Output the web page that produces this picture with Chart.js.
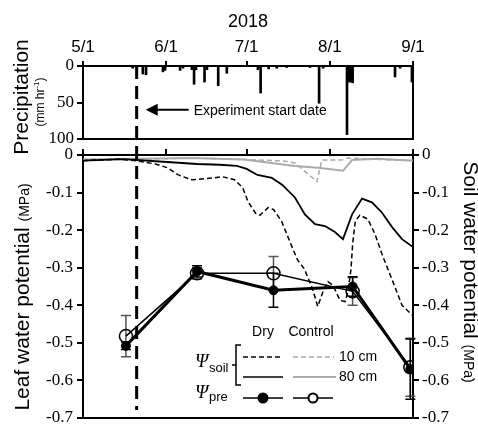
<!DOCTYPE html>
<html lang="en">
<head>
<meta charset="UTF-8">
<style>
  html, body { margin: 0; padding: 0; background: #fff; overflow: hidden; }
  .wrap { position: relative; width: 478px; height: 426px; }
  .wrap canvas { position: absolute; left: 0; top: 0; }
</style>
<title>Precipitation and water potential 2018</title>
</head>
<body>
<div class="wrap">
  <canvas id="rainChart" width="478" height="426"></canvas>
  <canvas id="psiChart" width="478" height="426"></canvas>
</div>
<script src="https://cdn.jsdelivr.net/npm/chart.js"></script>
<script>
// days counted from 5/1
const monthDays = [0, 31, 61, 92, 123];
const monthLabels = ['5/1', '6/1', '7/1', '8/1', '9/1'];
const startDay = 20;      // experiment start date
const arrowMm = 60;

// precipitation (mm hr-1)
const rainDay = [18.5, 22.3, 23.5, 29.8, 30.6, 36.2, 37.3, 40.6, 41.4, 42.1, 45.3, 46.2, 50.4, 53.6,
                 65.2, 66.2, 69.2, 72.2, 75.9, 84.6, 88, 89.5, 98.4, 99.1, 99.8, 100.5, 116.3, 118.2, 122.6];
const rainMm = [3, 11, 12, 8, 6, 6, 3, 5, 25, 5, 22, 5, 27, 10,
                5, 37, 4, 3, 2, 2, 51, 3, 94, 22, 22, 23, 15, 3, 22];
const rainTicks = [0, 50, 100];

// soil water potential (MPa)
const dry10Day = [0, 14, 20.5, 27, 31.5, 35.5, 40.5, 46, 52, 56.5, 59.5, 61.5, 64.5, 66, 69, 71, 74, 77, 80,
                  82.5, 85.5, 87.5, 89.5, 91.3, 93.2, 95.8, 97.7, 98.8, 99.9, 100.5, 101.5, 103.2, 106.2,
                  108.8, 111.4, 112.6, 115.5, 118.9, 123];
const dry10 = [-0.015, -0.011, -0.016, -0.024, -0.034, -0.053, -0.066, -0.063, -0.058, -0.066, -0.087, -0.124,
               -0.157, -0.16, -0.14, -0.145, -0.176, -0.229, -0.28, -0.303, -0.355, -0.403, -0.363, -0.337,
               -0.347, -0.387, -0.39, -0.363, -0.303, -0.237, -0.176, -0.16, -0.171, -0.21, -0.263, -0.285,
               -0.337, -0.4, -0.428];
const dry80Day = [0, 15, 30, 42.5, 51, 57.4, 61, 65, 70.4, 74.2, 79, 82.7, 86.5, 90.2, 93.9, 96.9,
                  100.3, 104, 107.7, 111.4, 115.2, 118.9, 123];
const dry80 = [-0.015, -0.011, -0.018, -0.024, -0.026, -0.029, -0.037, -0.053, -0.061, -0.079, -0.113,
               -0.158, -0.184, -0.189, -0.205, -0.224, -0.158, -0.116, -0.126, -0.153, -0.192, -0.224, -0.245];
const ctrl10Day = [0, 20, 40, 60, 75, 79, 87.2, 89, 96.5, 98.8, 110, 123];
const ctrl10 = [-0.012, -0.012, -0.008, -0.012, -0.016, -0.021, -0.071, -0.013, -0.013, -0.008, -0.012, -0.014];
const ctrl80Day = [0, 40, 60, 79, 87.6, 96.9, 100.3, 110, 123];
const ctrl80 = [-0.012, -0.008, -0.012, -0.029, -0.034, -0.042, -0.013, -0.01, -0.015];

// predawn leaf water potential (MPa)
const leafDay = [16, 42.5, 71, 100.5, 122];
const dryLeaf = [-0.508, -0.31, -0.36, -0.35, -0.57];
const drySe = [0.01, 0.015, 0.045, 0.026, 0.08];
const ctrlLeaf = [-0.482, -0.315, -0.315, -0.363, -0.565];
const ctrlSe = [0.055, 0.015, 0.045, 0.037, 0.077];
const psiTicks = [0, -0.1, -0.2, -0.3, -0.4, -0.5, -0.6, -0.7];

const sans = "'Liberation Sans', Arial, sans-serif";
const serif = "'Liberation Serif', 'Times New Roman', serif";
Chart.defaults.font.family = sans;
Chart.defaults.color = '#000';

const pts = (xs, ys) => xs.map((d, i) => ({ x: d, y: ys[i] }));

function drawTextRun(ctx, x, y, angle, parts) {
  ctx.save();
  ctx.translate(x, y);
  ctx.rotate(angle);
  ctx.textBaseline = 'alphabetic';
  ctx.textAlign = 'left';
  let total = 0;
  parts.forEach(p => { ctx.font = p.font; p.w = ctx.measureText(p.text).width; total += p.w; });
  let cx = -total / 2;
  parts.forEach(p => { ctx.font = p.font; ctx.fillText(p.text, cx, p.dy || 0); cx += p.w; });
  ctx.restore();
}

const axisGrid = { drawOnChartArea: false, tickLength: 6, lineWidth: 2, color: '#000' };
const axisBorder = { color: '#000', width: 2 };

const rainExtras = {
  id: 'rainExtras',
  afterDraw(chart) {
    const { ctx, chartArea: a, scales } = chart;
    ctx.save();
    ctx.strokeStyle = '#000';
    ctx.lineWidth = 2;
    ctx.beginPath();
    ctx.moveTo(a.right, a.top);
    ctx.lineTo(a.right, a.bottom);
    ctx.lineTo(a.left, a.bottom);
    ctx.stroke();

    // arrow + note
    const xs = scales.x.getPixelForValue(startDay);
    const ya = scales.y.getPixelForValue(arrowMm);
    ctx.fillStyle = '#000';
    ctx.beginPath();
    ctx.moveTo(xs + 9, ya);
    ctx.lineTo(xs + 21, ya - 6);
    ctx.lineTo(xs + 21, ya + 6);
    ctx.closePath();
    ctx.fill();
    ctx.beginPath();
    ctx.moveTo(xs + 20, ya);
    ctx.lineTo(xs + 52, ya);
    ctx.stroke();
    ctx.font = '14px ' + sans;
    ctx.textBaseline = 'middle';
    ctx.textAlign = 'left';
    ctx.fillText('Experiment start date', xs + 57, ya + 1);

    drawTextRun(ctx, 28, 97, -Math.PI / 2, [{ text: 'Precipitation', font: '21px ' + sans }]);
    drawTextRun(ctx, 44, 102, -Math.PI / 2, [
      { text: '(mm hr', font: '12px ' + sans },
      { text: '-1', font: '8px ' + sans, dy: -5 },
      { text: ')', font: '12px ' + sans }
    ]);
    ctx.restore();
  }
};

const rainChart = new Chart(document.getElementById('rainChart'), {
  type: 'bar',
  data: {
    datasets: [{
      data: pts(rainDay, rainMm),
      backgroundColor: '#000',
      barThickness: 2
    }]
  },
  options: {
    responsive: false,
    animation: false,
    layout: { padding: { left: 0, right: 65, top: 0, bottom: 287 } },
    plugins: { legend: { display: false }, tooltip: { enabled: false } },
    scales: {
      x: {
        type: 'linear', position: 'top', min: 0, max: 123, offset: false,
        afterBuildTicks: s => { s.ticks = monthDays.map(v => ({ value: v })); },
        afterFit: s => { s.height = 66; },
        ticks: {
          callback: (v, i) => monthLabels[i],
          font: { family: sans, size: 17 }, padding: 3, maxRotation: 0, autoSkip: false
        },
        grid: { ...axisGrid, tickLength: 5, offset: false },
        border: axisBorder,
        title: { display: true, text: '2018', font: { family: sans, size: 18 }, padding: { top: 11, bottom: 0 } }
      },
      y: {
        reverse: true, min: 0, max: 100,
        afterBuildTicks: s => { s.ticks = rainTicks.map(v => ({ value: v })); },
        afterFit: s => { s.width = 83; },
        ticks: { font: { family: serif, size: 17 }, padding: 3 },
        grid: axisGrid,
        border: axisBorder
      }
    }
  },
  plugins: [rainExtras]
});

const psiExtras = {
  id: 'psiExtras',
  beforeDatasetsDraw(chart) {
    const { ctx, scales: { x, y } } = chart;
    ctx.save();
    [[ctrlLeaf, ctrlSe, '#555'], [dryLeaf, drySe, '#000']].forEach(([vals, se, col]) => {
      ctx.strokeStyle = col;
      ctx.lineWidth = 1.5;
      leafDay.forEach((d, i) => {
        const px = x.getPixelForValue(d);
        const top = y.getPixelForValue(vals[i] + se[i]);
        const bot = y.getPixelForValue(vals[i] - se[i]);
        ctx.beginPath();
        ctx.moveTo(px, top); ctx.lineTo(px, bot);
        ctx.moveTo(px - 5, top); ctx.lineTo(px + 5, top);
        ctx.moveTo(px - 5, bot); ctx.lineTo(px + 5, bot);
        ctx.stroke();
      });
    });
    ctx.restore();
  },
  afterDraw(chart) {
    const { ctx, chartArea: a, scales } = chart;
    ctx.save();
    ctx.strokeStyle = '#000';
    ctx.lineWidth = 2;
    ctx.beginPath();
    ctx.moveTo(a.left, a.bottom);
    ctx.lineTo(a.right, a.bottom);
    ctx.stroke();

    // experiment start line through both panels
    const xs = scales.x.getPixelForValue(startDay);
    ctx.lineWidth = 3;
    ctx.setLineDash([13, 7]);
    ctx.beginPath();
    ctx.moveTo(xs, rainChart.chartArea.top);
    ctx.lineTo(xs, a.bottom - 8);
    ctx.stroke();
    ctx.setLineDash([]);

    // legend
    ctx.fillStyle = '#000';
    ctx.font = '14px ' + sans;
    ctx.textBaseline = 'middle';
    ctx.textAlign = 'center';
    ctx.fillText('Dry', 263, 332);
    ctx.fillText('Control', 311, 332);
    ctx.textAlign = 'left';
    ctx.fillText('10 cm', 339, 357);
    ctx.fillText('80 cm', 339, 377);

    const seg = (x1, x2, yy, col, w, dash) => {
      ctx.strokeStyle = col; ctx.lineWidth = w; ctx.setLineDash(dash);
      ctx.beginPath(); ctx.moveTo(x1, yy); ctx.lineTo(x2, yy); ctx.stroke();
      ctx.setLineDash([]);
    };
    seg(243, 283, 357, '#000', 1.5, [5, 3]);
    seg(293, 334, 357, '#aaa', 1.5, [5, 3]);
    seg(243, 283, 377, '#000', 1.5, []);
    seg(293, 336, 377, '#aaa', 2, []);
    seg(243, 283, 398, '#000', 1.5, []);
    seg(293, 333, 398, '#000', 1.5, []);
    ctx.beginPath(); ctx.arc(263, 398, 5.5, 0, Math.PI * 2); ctx.fill();
    ctx.fillStyle = '#fff';
    ctx.strokeStyle = '#000'; ctx.lineWidth = 2;
    ctx.beginPath(); ctx.arc(313, 398, 4.5, 0, Math.PI * 2); ctx.fill(); ctx.stroke();

    // bracket
    ctx.lineWidth = 1.5;
    ctx.beginPath();
    ctx.moveTo(241, 345); ctx.lineTo(236, 345); ctx.lineTo(236, 385); ctx.lineTo(241, 385);
    ctx.moveTo(236, 365); ctx.lineTo(232, 365);
    ctx.stroke();

    ctx.fillStyle = '#000';
    ctx.textBaseline = 'alphabetic';
    ctx.font = 'italic 19px ' + serif;
    ctx.fillText('\u03A8', 195, 367);
    ctx.fillText('\u03A8', 195, 398);
    ctx.font = '13px ' + sans;
    ctx.fillText('soil', 209, 372);
    ctx.fillText('pre', 209, 401);

    // axis titles
    drawTextRun(ctx, 29, 297, -Math.PI / 2, [
      { text: 'Leaf water potential ', font: '21px ' + sans },
      { text: '(MPa)', font: '14px ' + sans }
    ]);
    drawTextRun(ctx, 464, 272, Math.PI / 2, [
      { text: 'Soil water potential ', font: '21px ' + sans },
      { text: '(MPa)', font: '14px ' + sans }
    ]);
    ctx.restore();
  }
};

const psiTick = v => (Math.abs(v) < 1e-9 ? '0' : v.toFixed(1));

new Chart(document.getElementById('psiChart'), {
  type: 'line',
  data: {
    datasets: [
      { data: pts(leafDay, dryLeaf), yAxisID: 'y', order: 0, borderColor: '#000', borderWidth: 3,
        pointRadius: 4.5, pointBackgroundColor: '#000', pointBorderColor: '#000', pointBorderWidth: 1 },
      { data: pts(leafDay, ctrlLeaf), yAxisID: 'y', order: 1, borderColor: '#000', borderWidth: 1.5,
        pointRadius: 6.5, pointBackgroundColor: 'rgba(0,0,0,0)', pointBorderColor: '#000', pointBorderWidth: 1.5 },
      { data: pts(dry10Day, dry10), yAxisID: 'y2', order: 2, borderColor: '#000', borderWidth: 1.5,
        borderDash: [5, 3], pointRadius: 0 },
      { data: pts(dry80Day, dry80), yAxisID: 'y2', order: 3, borderColor: '#000', borderWidth: 1.8, pointRadius: 0 },
      { data: pts(ctrl10Day, ctrl10), yAxisID: 'y2', order: 4, borderColor: '#aaa', borderWidth: 1.5,
        borderDash: [5, 3], pointRadius: 0 },
      { data: pts(ctrl80Day, ctrl80), yAxisID: 'y2', order: 5, borderColor: '#aaa', borderWidth: 2, pointRadius: 0 }
    ]
  },
  options: {
    responsive: false,
    animation: false,
    layout: { padding: { left: 0, right: 0, top: 0, bottom: 4 } },
    plugins: { legend: { display: false }, tooltip: { enabled: false } },
    scales: {
      x: {
        type: 'linear', position: 'top', min: 0, max: 123,
        afterBuildTicks: s => { s.ticks = monthDays.map(v => ({ value: v })); },
        afterFit: s => { s.height = 155; },
        ticks: { display: false },
        grid: axisGrid,
        border: axisBorder
      },
      y: {
        position: 'left', min: -0.7, max: 0,
        afterBuildTicks: s => { s.ticks = psiTicks.map(v => ({ value: v })); },
        afterFit: s => { s.width = 83; s.paddingTop = 0; s.paddingBottom = 0; },
        ticks: { callback: psiTick, font: { family: serif, size: 17 }, padding: 4 },
        grid: axisGrid,
        border: axisBorder
      },
      y2: {
        position: 'right', min: -0.7, max: 0,
        afterBuildTicks: s => { s.ticks = psiTicks.map(v => ({ value: v })); },
        afterFit: s => { s.width = 65; s.paddingTop = 0; s.paddingBottom = 0; },
        ticks: { callback: psiTick, font: { family: serif, size: 17 }, padding: 3 },
        grid: axisGrid,
        border: axisBorder
      }
    }
  },
  plugins: [psiExtras]
});
</script>
</body>
</html>
